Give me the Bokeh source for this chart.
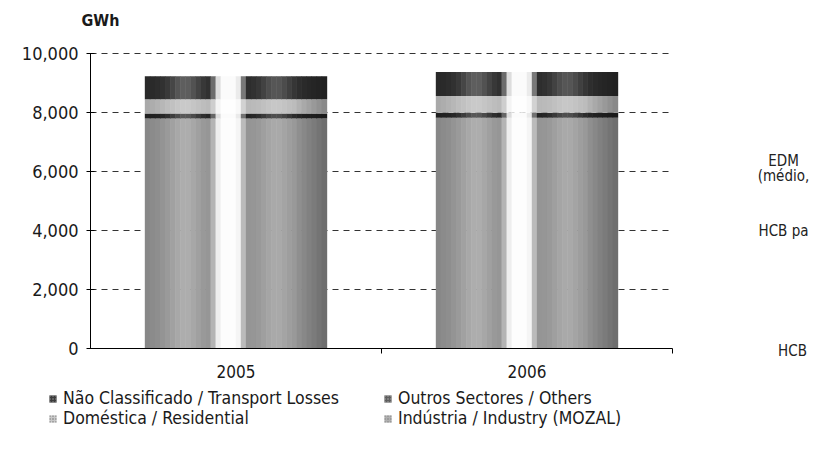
import numpy as np
from bokeh.plotting import figure
from bokeh.models import (Range1d, FixedTicker, NumeralTickFormatter, Label,
                          Legend, LegendItem, ColumnDataSource)
from bokeh.embed import file_html
from bokeh.resources import INLINE

# ---------------- data ----------------
years = ["2005", "2006"]
industria = [7800, 7820]      # Indústria / Industry (MOZAL)
outros = [170, 170]           # Outros Sectores / Others
domestica = [480, 570]        # Doméstica / Residential
nao_class = [780, 810]        # Não Classificado / Transport Losses
y_ticks = [0, 2000, 4000, 6000, 8000, 10000]

labels = {
    "nao": "Não Classificado / Transport Losses",
    "out": "Outros Sectores / Others",
    "dom": "Doméstica / Residential",
    "ind": "Indústria / Industry (MOZAL)",
}
side_texts = ["EDM", "(médio,", "HCB pa", "HCB"]

# ---------------- layout constants (canvas pixels) ----------------
FONT = "DejaVu Sans Condensed, Liberation Sans Narrow, DejaVu Sans"
W, H = 811, 456
AX_X, AX_Y = 90.0, 348.0          # where x=0 / y=0 fall on the canvas
px_per_x = 291.0
px_per_y = 0.0295                 # pixels per GWh

x_start = -AX_X / px_per_x
x_end = (W - AX_X) / px_per_x
y_start = -(H - AX_Y) / px_per_y
y_end = AX_Y / px_per_y

def y_at(cy):
    return (AX_Y - cy) / px_per_y

def x_at(cx):
    return (cx - AX_X) / px_per_x

p = figure(width=W, height=H, x_range=Range1d(x_start, x_end),
           y_range=Range1d(y_start, y_end),
           output_backend="svg", toolbar_location=None,
           min_border_left=0, min_border_right=0, min_border_top=0,
           min_border_bottom=0)
p.outline_line_color = None
p.grid.visible = False
p.background_fill_color = "white"

n = len(years)

# dashed reference lines
gl = [v for v in y_ticks if v > 0]
p.segment(x0=[0] * len(gl), x1=[n] * len(gl), y0=gl, y1=gl,
          line_color="#333333", line_width=1, line_dash="6 5")

# ---------------- stacked cylinder-like bars ----------------
bar_w = 0.625
N = 36
t = (np.arange(N) + 0.5) / N
core = np.clip(1 - (np.abs(t - 0.46) - 0.05) / 0.05, 0, 1)
soft = 0.24 * np.exp(-((t - 0.22) / 0.08) ** 2) + 0.20 * np.exp(-((t - 0.72) / 0.08) ** 2)
dark = 0.28 * np.clip((t - 0.82) / 0.18, 0, 1) + 0.10 * np.clip((0.12 - t) / 0.12, 0, 1)
light_mix = np.clip(0.98 * core + soft, 0, 1)

series = [("ind", industria, 148), ("out", outros, 35),
          ("dom", domestica, 185), ("nao", nao_class, 45)]

bottoms = np.zeros(n)
for key, vals, g in series:
    vals = np.array(vals, dtype=float)
    xs, b, tp, cols = [], [], [], []
    lvl = (g + (255 - g) * light_mix) * (1 - dark)
    for i in range(n):
        for k in range(N):
            xs.append(i + 0.5 + (t[k] - 0.5) * bar_w)
            b.append(bottoms[i])
            tp.append(bottoms[i] + vals[i])
            c = int(round(lvl[k]))
            cols.append("#%02x%02x%02x" % (c, c, c))
    src = ColumnDataSource(dict(x=xs, bottom=b, top=tp, color=cols))
    p.vbar(x="x", bottom="bottom", top="top", width=bar_w / N * 1.1,
           fill_color="color", line_color=None, source=src)
    bottoms = bottoms + vals

# ---------------- axes ----------------
ya = p.yaxis[0]
ya.fixed_location = 0
ya.ticker = FixedTicker(ticks=y_ticks)
ya.formatter = NumeralTickFormatter(format="0,0")
ya.bounds = (0, y_ticks[-1])
ya.axis_line_color = "black"
ya.major_tick_in = 4
ya.major_tick_out = 4
ya.minor_tick_line_color = None
ya.major_label_standoff = 8
ya.major_label_text_font = FONT
ya.major_label_text_font_size = "18px"
ya.major_label_text_color = "#1a1a1a"

xa = p.xaxis[0]
xa.fixed_location = 0
centers = [i + 0.5 for i in range(n)]
xa.ticker = FixedTicker(ticks=centers, minor_ticks=list(range(1, n + 1)))
xa.major_label_overrides = {c: y for c, y in zip(centers, years)}
xa.bounds = (0, n)
xa.axis_line_color = "black"
xa.major_tick_line_color = None
xa.major_tick_in = 0
xa.major_tick_out = 0
xa.minor_tick_in = 0
xa.minor_tick_out = 5
xa.minor_tick_line_color = "black"
xa.major_label_standoff = 11
xa.major_label_text_font = FONT
xa.major_label_text_font_size = "17px"
xa.major_label_text_color = "#1a1a1a"

# ---------------- texts ----------------
p.add_layout(Label(x=x_at(81), y=y_at(20), text="GWh", text_font=FONT,
                   text_font_size="16px", text_font_style="bold",
                   text_baseline="middle", text_color="#1a1a1a"))
for txt, cy, cx in zip(side_texts, [160, 175, 230, 350], [783, 783, 783, 792]):
    p.add_layout(Label(x=x_at(cx), y=y_at(cy), text=txt, text_font=FONT,
                       text_font_size="15px", text_align="center",
                       text_baseline="middle", text_color="#222222"))

# ---------------- legend ----------------
sw = {"nao": "#3c3c3c", "out": "#5e5e5e", "dom": "#c8c8c8", "ind": "#b0b0b0"}
hatch = {"nao": "dot", "out": "dot", "dom": "dot", "ind": "dot"}
hcol = {"nao": "#9a9a9a", "out": "#b0b0b0", "dom": "#6a6a6a", "ind": "#7a7a7a"}
dummies = {}
for key in ["nao", "out", "dom", "ind"]:
    # swatch-only renderer, its single point lies outside the visible ranges
    dummies[key] = p.rect(x=[x_start - 5], y=[y_start - 5e4], width=0.01, height=1,
                          fill_color=sw[key], line_color=None,
                          hatch_pattern=hatch[key], hatch_color=hcol[key],
                          hatch_scale=3, hatch_weight=1)

def make_legend(keys, loc):
    lg = Legend(items=[LegendItem(label=labels[k], renderers=[dummies[k]]) for k in keys],
                location=loc, orientation="vertical", border_line_color=None,
                background_fill_alpha=0, padding=0, margin=0, spacing=0,
                label_height=19, glyph_height=9, glyph_width=9, label_standoff=6,
                label_text_font=FONT, label_text_font_size="17.5px",
                label_text_color="#1a1a1a")
    p.add_layout(lg, "center")
    return lg

make_legend(["nao", "dom"], (48, H - 428))
make_legend(["out", "ind"], (383, H - 428))

open("out.html", "w").write(file_html(p, INLINE))
